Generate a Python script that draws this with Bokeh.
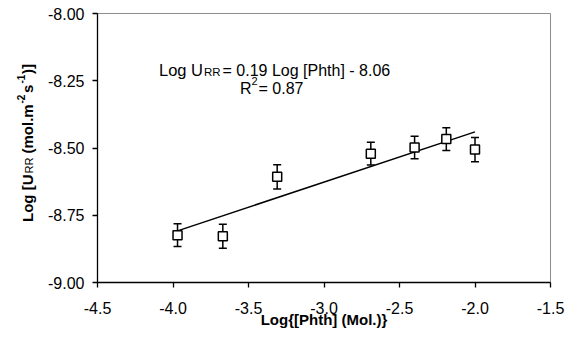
import math
from bokeh.plotting import figure
from bokeh.layouts import row
from bokeh.models import (ColumnDataSource, Range1d, FixedTicker, NumeralTickFormatter,
                          Whisker, TeeHead, Label)
from bokeh.embed import file_html
from bokeh.resources import INLINE

# ---- data ----
log_phth = [-3.97, -3.67, -3.31, -2.69, -2.40, -2.19, -2.00]
log_urr = [-8.824, -8.828, -8.607, -8.521, -8.498, -8.467, -8.506]
err = [0.042, 0.045, 0.045, 0.042, 0.042, 0.042, 0.045]
fit_x = [-3.97, -2.00]
fit_y = [-8.808, -8.440]
x_ticks = [-4.5, -4.0, -3.5, -3.0, -2.5, -2.0, -1.5]
y_ticks = [-9.0, -8.75, -8.5, -8.25, -8.0]
x_title = "Log{[Phth] (Mol.)}"
y_title_parts = ["Log [U", "RR", "(mol.m", "-2", "s", "-1", ")]"]
eq_parts = ["Log U", "RR", "= 0.19 Log [Phth] - 8.06"]
r2_parts = ["R", "2", "= 0.87"]

FONT = "Liberation Sans"
XMIN, XMAX = -4.5, -1.5
YMIN, YMAX = -9.0, -8.0

TITLE_W = 40          # width of the strip holding the rotated y title
H = 344
F_LEFT, F_RIGHT, F_TOP, F_BOTTOM = 97, 550, 13, 282


def dx(px):
    return XMIN + (px - F_LEFT) * (XMAX - XMIN) / (F_RIGHT - F_LEFT)


def dy(py):
    return YMAX - (py - F_TOP) * (YMAX - YMIN) / (F_BOTTOM - F_TOP)


upper = [v + e for v, e in zip(log_urr, err)]
lower = [v - e for v, e in zip(log_urr, err)]
src = ColumnDataSource(dict(x=log_phth, y=log_urr, upper=upper, lower=lower))

p = figure(frame_width=F_RIGHT - F_LEFT, frame_height=F_BOTTOM - F_TOP,
           min_border_left=F_LEFT - TITLE_W, min_border_right=15,
           min_border_top=F_TOP, min_border_bottom=H - F_BOTTOM,
           x_range=Range1d(XMIN, XMAX), y_range=Range1d(YMIN, YMAX),
           output_backend="svg", toolbar_location=None)

p.background_fill_color = "white"
p.border_fill_color = "white"
p.outline_line_color = "#8c8c8c"
p.outline_line_width = 1
p.xgrid.visible = False
p.ygrid.visible = False

for ax in (p.xaxis[0], p.yaxis[0]):
    ax.axis_line_color = "black"
    ax.axis_line_width = 1.3
    ax.major_tick_line_color = "black"
    ax.major_tick_line_width = 1.3
    ax.major_tick_out = 5
    ax.major_tick_in = 0
    ax.minor_tick_line_color = None
    ax.major_label_text_font = FONT
    ax.major_label_text_font_size = "16px"
    ax.major_label_text_color = "black"

p.xaxis.ticker = FixedTicker(ticks=x_ticks)
p.yaxis.ticker = FixedTicker(ticks=y_ticks)
p.xaxis.formatter = NumeralTickFormatter(format="0.0")
p.yaxis.formatter = NumeralTickFormatter(format="0.00")
p.xaxis.major_label_standoff = 14
p.yaxis.major_label_standoff = 8

p.xaxis.axis_label = x_title
p.xaxis.axis_label_text_font = FONT
p.xaxis.axis_label_text_font_size = "15px"
p.xaxis.axis_label_text_font_style = "bold"
p.xaxis.axis_label_text_color = "black"
p.xaxis.axis_label_standoff = -6

# error bars
wh = Whisker(base="x", upper="upper", lower="lower", source=src, dimension="height",
             line_color="black", line_width=1.5,
             upper_head=TeeHead(size=8, line_color="black", line_width=1.5),
             lower_head=TeeHead(size=8, line_color="black", line_width=1.5))
p.add_layout(wh)

# regression line
p.line(fit_x, fit_y, line_color="black", line_width=1.5)

# open squares
p.scatter("x", "y", source=src, marker="square", size=9, fill_color="white",
          line_color="black", line_width=1.5)


def lab(fig, x, y, text, size, bold=False, angle=0.0):
    fig.add_layout(Label(x=x, y=y, text=text, angle=angle,
                         text_font=FONT, text_font_size=size,
                         text_font_style="bold" if bold else "normal",
                         text_color="black", text_align="left",
                         text_baseline="alphabetic"))


# equation and R^2 (positions in page pixels -> data)
lab(p, dx(158.5), dy(69.5), eq_parts[0], "16.5px")
lab(p, dx(203.5), dy(71.0), eq_parts[1], "11.5px")
lab(p, dx(222.0), dy(69.5), eq_parts[2], "16px")
lab(p, dx(239.5), dy(87.5), r2_parts[0], "16px")
lab(p, dx(251.0), dy(80.5), r2_parts[1], "11px")
lab(p, dx(258.0), dy(87.5), r2_parts[2], "16px")

# strip for the rotated y-axis title; its frame spans the same rows as the
# main frame and its ranges are page pixels
t = figure(frame_width=TITLE_W, frame_height=F_BOTTOM - F_TOP,
           min_border_left=0, min_border_right=0,
           min_border_top=F_TOP, min_border_bottom=H - F_BOTTOM,
           x_range=Range1d(0, TITLE_W), y_range=Range1d(F_BOTTOM, F_TOP),
           x_axis_location=None, y_axis_location=None,
           output_backend="svg", toolbar_location=None)
t.grid.visible = False
t.outline_line_color = None
t.background_fill_color = "white"
t.border_fill_color = "white"

A = math.pi / 2
XB = 26.5
lab(t, XB, 221.5, y_title_parts[0], "15px", True, A)
lab(t, XB + 2, 173.0, y_title_parts[1], "11px", False, A)
lab(t, XB, 153.0, y_title_parts[2], "15px", True, A)
lab(t, XB - 6, 103.0, y_title_parts[3], "10px", True, A)
lab(t, XB, 92.5, y_title_parts[4], "15px", True, A)
lab(t, XB - 6, 83.0, y_title_parts[5], "10px", True, A)
lab(t, XB, 73.5, y_title_parts[6], "15px", True, A)

layout = row(t, p, spacing=0)
open("out.html", "w").write(file_html(layout, INLINE))
